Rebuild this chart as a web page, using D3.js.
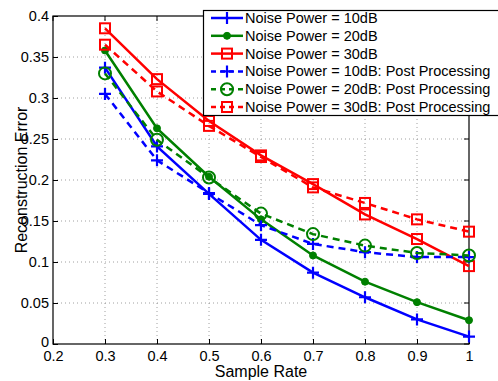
<!DOCTYPE html>
<html>
<head>
<meta charset="utf-8">
<script src="https://cdn.jsdelivr.net/npm/d3@7"></script>
<style>
body { margin: 0; background: #fff; }
text { font-family: "Liberation Sans", Arial, sans-serif; }
</style>
</head>
<body>
<div id="chart"></div>
<script>
var sampleRates = [0.3, 0.4, 0.5, 0.6, 0.7, 0.8, 0.9, 1.0];

var err10 = [0.337, 0.241, 0.183, 0.127, 0.087, 0.057, 0.030, 0.009];
var err20 = [0.358, 0.263, 0.204, 0.152, 0.108, 0.076, 0.051, 0.029];
var err30 = [0.385, 0.323, 0.272, 0.230, 0.195, 0.158, 0.128, 0.095];
var err10pp = [0.305, 0.224, 0.184, 0.145, 0.122, 0.112, 0.106, 0.106];
var err20pp = [0.330, 0.249, 0.203, 0.159, 0.134, 0.120, 0.111, 0.108];
var err30pp = [0.365, 0.308, 0.266, 0.228, 0.191, 0.172, 0.152, 0.137];

var xTicks = [0.2, 0.3, 0.4, 0.5, 0.6, 0.7, 0.8, 0.9, 1];
var yTicks = [0, 0.05, 0.1, 0.15, 0.2, 0.25, 0.3, 0.35, 0.4];

var seriesNames = [
    "Noise Power = 10dB",
    "Noise Power = 20dB",
    "Noise Power = 30dB",
    "Noise Power = 10dB: Post Processing",
    "Noise Power = 20dB: Post Processing",
    "Noise Power = 30dB: Post Processing"
];

var series = [
    { name: seriesNames[0], values: err10, color: "#0000ff", marker: "plus", dash: null },
    { name: seriesNames[1], values: err20, color: "#008000", marker: "dot", dash: null },
    { name: seriesNames[2], values: err30, color: "#ff0000", marker: "square", dash: null },
    { name: seriesNames[3], values: err10pp, color: "#0000ff", marker: "plus", dash: "7,5" },
    { name: seriesNames[4], values: err20pp, color: "#008000", marker: "circle", dash: "7,5" },
    { name: seriesNames[5], values: err30pp, color: "#ff0000", marker: "square", dash: "7,5" }
];

var width = 498, height = 381;
var margin = { top: 16, right: 29, bottom: 37, left: 53 };

var svg = d3.select("#chart")
    .append("svg")
    .attr("width", width)
    .attr("height", height);

var x = d3.scaleLinear()
    .domain([0.2, 1])
    .range([margin.left, width - margin.right]);

var y = d3.scaleLinear()
    .domain([0, 0.4])
    .range([height - margin.bottom, margin.top]);

// grid
svg.append("g")
    .selectAll("line")
    .data(xTicks.slice(1, -1))
    .enter()
    .append("line")
    .attr("x1", function (d) { return x(d) })
    .attr("x2", function (d) { return x(d) })
    .attr("y1", y(0))
    .attr("y2", y(0.4))
    .attr("stroke", "#888")
    .attr("stroke-width", 0.8)
    .attr("stroke-dasharray", "1,3");

svg.append("g")
    .selectAll("line")
    .data(yTicks.slice(1, -1))
    .enter()
    .append("line")
    .attr("x1", x(0.2))
    .attr("x2", x(1))
    .attr("y1", function (d) { return y(d) })
    .attr("y2", function (d) { return y(d) })
    .attr("stroke", "#888")
    .attr("stroke-width", 0.8)
    .attr("stroke-dasharray", "1,3");

// axes
var xAxis = svg.append("g")
    .attr("transform", "translate(0," + y(0) + ")")
    .call(d3.axisBottom(x).tickValues(xTicks).tickSize(-5).tickPadding(7)
        .tickFormat(function (d) { return d === 1 ? "1" : d3.format(".1f")(d) }));

var yAxis = svg.append("g")
    .attr("transform", "translate(" + x(0.2) + ",0)")
    .call(d3.axisLeft(y).tickValues(yTicks).tickSize(-5).tickPadding(4)
        .tickFormat(function (d) { return d === 0 ? "0" : d3.format("")(+d.toFixed(2)) }));

[xAxis, yAxis].forEach(function (a) {
    a.select(".domain").remove();
    a.selectAll("line").attr("stroke", "#000").attr("stroke-width", 1);
    a.selectAll("text").attr("font-size", 14.5).attr("fill", "#000")
        .style("font-family", "'Liberation Sans', Arial, sans-serif");
});
yAxis.selectAll(".tick text").filter(function (d) { return d === 0 }).attr("dy", "0.2em");

// right/top ticks
svg.append("g").selectAll("line")
    .data(yTicks).enter().append("line")
    .attr("x1", x(1)).attr("x2", x(1) - 5)
    .attr("y1", function (d) { return y(d) }).attr("y2", function (d) { return y(d) })
    .attr("stroke", "#000");
svg.append("g").selectAll("line")
    .data(xTicks).enter().append("line")
    .attr("x1", function (d) { return x(d) }).attr("x2", function (d) { return x(d) })
    .attr("y1", y(0.4)).attr("y2", y(0.4) + 5)
    .attr("stroke", "#000");

// frame
svg.append("rect")
    .attr("x", x(0.2))
    .attr("y", y(0.4))
    .attr("width", x(1) - x(0.2))
    .attr("height", y(0) - y(0.4))
    .attr("fill", "none")
    .attr("stroke", "#000")
    .attr("stroke-width", 1.2);

// labels
svg.append("text")
    .attr("x", (x(0.2) + x(1)) / 2)
    .attr("y", height - 4)
    .attr("text-anchor", "middle")
    .attr("font-size", 16)
    .text("Sample Rate");

svg.append("text")
    .attr("transform", "translate(27," + ((y(0) + y(0.4)) / 2) + ") rotate(-90)")
    .attr("text-anchor", "middle")
    .attr("font-size", 16)
    .text("Reconstruction Error");

function drawMarker(g, type, color, cx, cy) {
    if (type === "plus") {
        g.append("path")
            .attr("d", "M" + (cx - 6) + "," + cy + "H" + (cx + 6) + "M" + cx + "," + (cy - 6) + "V" + (cy + 6))
            .attr("stroke", color).attr("stroke-width", 2.2).attr("fill", "none");
    } else if (type === "dot") {
        g.append("circle").attr("cx", cx).attr("cy", cy).attr("r", 3.5)
            .attr("fill", color).attr("stroke", color);
    } else if (type === "circle") {
        g.append("circle").attr("cx", cx).attr("cy", cy).attr("r", 6)
            .attr("fill", "none").attr("stroke", color).attr("stroke-width", 2);
    } else if (type === "square") {
        g.append("rect").attr("x", cx - 5).attr("y", cy - 5).attr("width", 10).attr("height", 10)
            .attr("fill", "none").attr("stroke", color).attr("stroke-width", 2);
    }
}

var line = d3.line()
    .x(function (d) { return x(d[0]) })
    .y(function (d) { return y(d[1]) });

series.forEach(function (s) {
    var g = svg.append("g");
    var pts = sampleRates.map(function (r, i) { return [r, s.values[i]] });
    g.append("path")
        .datum(pts)
        .attr("d", line)
        .attr("fill", "none")
        .attr("stroke", s.color)
        .attr("stroke-width", 2.5)
        .attr("stroke-dasharray", s.dash);
    pts.forEach(function (p) { drawMarker(g, s.marker, s.color, x(p[0]), y(p[1])) });
});

// legend
var legend = svg.append("g");
legend.append("rect")
    .attr("x", 203.5)
    .attr("y", 10.5)
    .attr("width", 300)
    .attr("height", 105)
    .attr("fill", "#fff")
    .attr("stroke", "#000")
    .attr("stroke-width", 1.2);

series.forEach(function (s, i) {
    var ly = 18 + i * 17.8;
    legend.append("line")
        .attr("x1", 211).attr("x2", 243)
        .attr("y1", ly).attr("y2", ly)
        .attr("stroke", s.color)
        .attr("stroke-width", 2.5)
        .attr("stroke-dasharray", s.dash ? "5,4" : null);
    drawMarker(legend, s.marker, s.color, 227, ly);
    legend.append("text")
        .attr("x", 245)
        .attr("y", ly + 5)
        .attr("font-size", 14.5)
        .text(s.name);
});
</script>
</body>
</html>
